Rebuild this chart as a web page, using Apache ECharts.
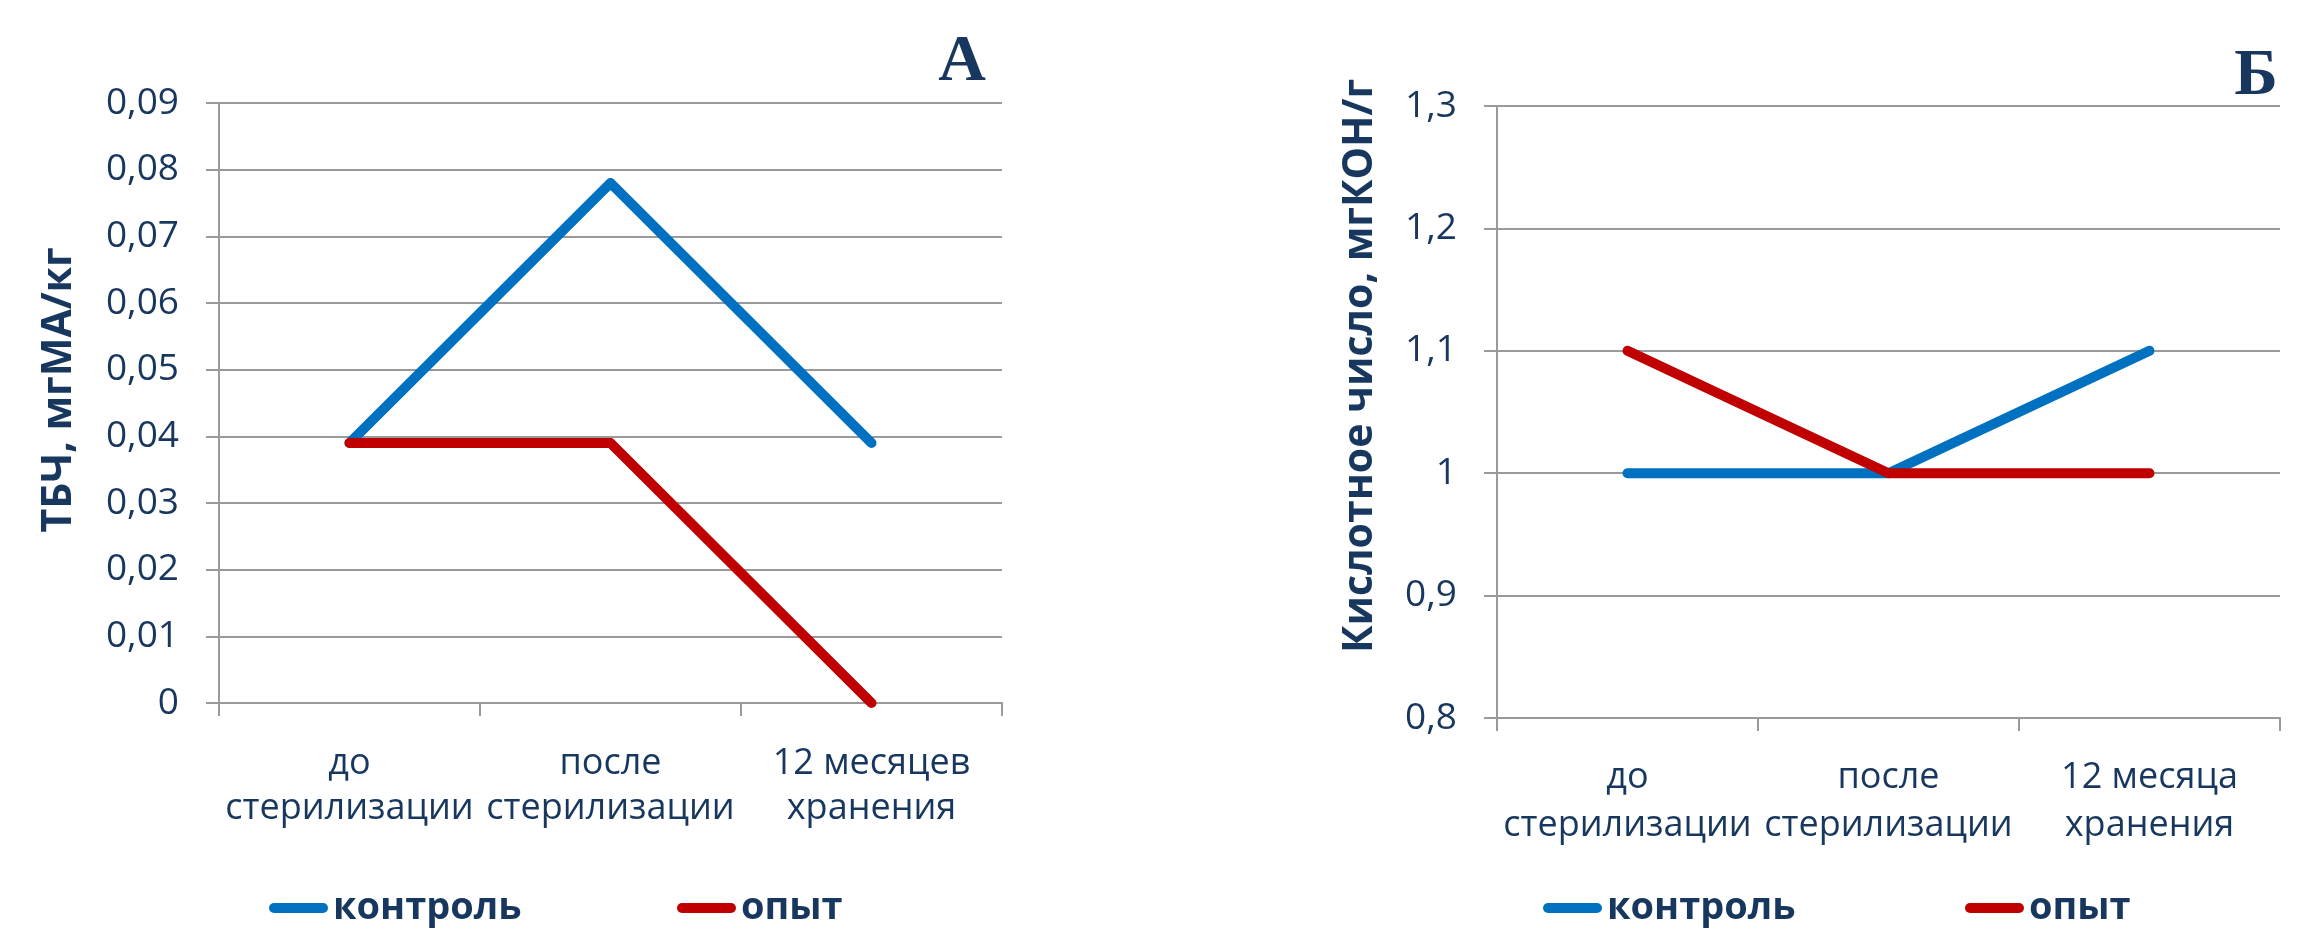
<!DOCTYPE html>
<html>
<head>
<meta charset="utf-8">
<script src="https://cdn.jsdelivr.net/npm/echarts@6/dist/echarts.min.js"></script>
<style>
  html, body { margin: 0; padding: 0; background: #ffffff; }
  #chart { width: 2302px; height: 934px; }
</style>
</head>
<body>
<div id="chart"></div>
<script>
// Panel А: ТБЧ (thiobarbituric number)
const categoriesA = ['до\nстерилизации', 'после\nстерилизации', '12 месяцев\nхранения'];
const controlA = [0.039, 0.078, 0.039];
const experimentA = [0.039, 0.039, 0];
const ticksA = ['0', '0,01', '0,02', '0,03', '0,04', '0,05', '0,06', '0,07', '0,08', '0,09'];

// Panel Б: acid number
const categoriesB = ['до\nстерилизации', 'после\nстерилизации', '12 месяца\nхранения'];
const controlB = [1.0, 1.0, 1.1];
const experimentB = [1.1, 1.0, 1.0];
const ticksB = ['0,8', '0,9', '1', '1,1', '1,2', '1,3'];

const seriesNames = ['контроль', 'опыт'];
const titleA = 'ТБЧ, мгМА/кг';
const titleB = 'Кислотное число, мгКОН/г';

const TEXT = '#17375E';
const GRID_LINE = '#9a9a9a';
const BLUE = '#0070C0';
const RED = '#C00000';
const FONT = '"Open Sans", "Noto Sans", sans-serif';

function catAxis(gridIndex, data, margin, lineHeight) {
  return {
    type: 'category', gridIndex, data, boundaryGap: true,
    axisLine: { show: true, lineStyle: { color: GRID_LINE, width: 2 } },
    axisTick: { show: true, length: 13, lineStyle: { color: GRID_LINE, width: 2 } },
    axisLabel: { color: TEXT, fontFamily: FONT, fontSize: 36, lineHeight, margin, interval: 0 },
    splitLine: { show: false }
  };
}

function valAxis(gridIndex, min, max, interval, ticks) {
  return {
    type: 'value', gridIndex, min, max, interval,
    axisLine: { show: true, lineStyle: { color: GRID_LINE, width: 2 } },
    axisTick: { show: true, length: 13, lineStyle: { color: GRID_LINE, width: 2 } },
    axisLabel: {
      color: TEXT, fontFamily: FONT, fontSize: 37, margin: 40,
      formatter: (v, i) => ticks[i]
    },
    splitLine: { show: true, lineStyle: { color: GRID_LINE, width: 2 } }
  };
}

function lineSeries(name, data, color, axisIndex, z) {
  return {
    name, type: 'line', data, xAxisIndex: axisIndex, yAxisIndex: axisIndex,
    showSymbol: false, symbol: 'none', z, animation: false,
    lineStyle: { color, width: 10, cap: 'round', join: 'round' },
    itemStyle: { color }
  };
}

const pillIcon = 'path://M5,0 H54 A5,5 0 0 1 54,10 H5 A5,5 0 0 1 5,0 Z';
function legendItem(name, left, top) {
  return {
    data: [name], left, top, icon: pillIcon, itemWidth: 59, itemHeight: 10,
    textStyle: { color: TEXT, fontFamily: FONT, fontSize: 38, fontWeight: 'bold' },
    selectedMode: false
  };
}

function sideTitle(text, x, y) {
  return {
    type: 'text', x, y, rotation: Math.PI / 2,
    style: { text, fill: TEXT, font: 'bold 41px ' + FONT, align: 'center', verticalAlign: 'middle' }
  };
}

function panelLetter(text, x, y) {
  return {
    type: 'text', x, y,
    style: { text, fill: TEXT, font: 'bold 66px "Liberation Serif", "DejaVu Serif", serif', align: 'center', verticalAlign: 'bottom' }
  };
}

const chart = echarts.init(document.getElementById('chart'), null, { renderer: 'canvas' });
chart.setOption({
  backgroundColor: '#ffffff',
  animation: false,
  grid: [
    { left: 219, top: 103, width: 783, height: 600 },
    { left: 1497, top: 106, width: 783, height: 612 }
  ],
  xAxis: [
    catAxis(0, categoriesA, 38, 45),
    catAxis(1, categoriesB, 36, 48)
  ],
  yAxis: [
    valAxis(0, 0, 0.09, 0.01, ticksA),
    valAxis(1, 0.8, 1.3, 0.1, ticksB)
  ],
  legend: [
    legendItem(seriesNames[0], 264, 884),
    legendItem(seriesNames[1], 672, 884),
    legendItem(seriesNames[0], 1538, 884),
    legendItem(seriesNames[1], 1960, 884)
  ],
  series: [
    lineSeries(seriesNames[0], controlA, BLUE, 0, 2),
    lineSeries(seriesNames[1], experimentA, RED, 0, 3),
    lineSeries(seriesNames[0], controlB, BLUE, 1, 2),
    lineSeries(seriesNames[1], experimentB, RED, 1, 3)
  ],
  graphic: [
    sideTitle(titleA, 59, 390),
    sideTitle(titleB, 1360, 366),
    panelLetter('А', 962, 96),
    panelLetter('Б', 2256, 110)
  ]
});
</script>
</body>
</html>
